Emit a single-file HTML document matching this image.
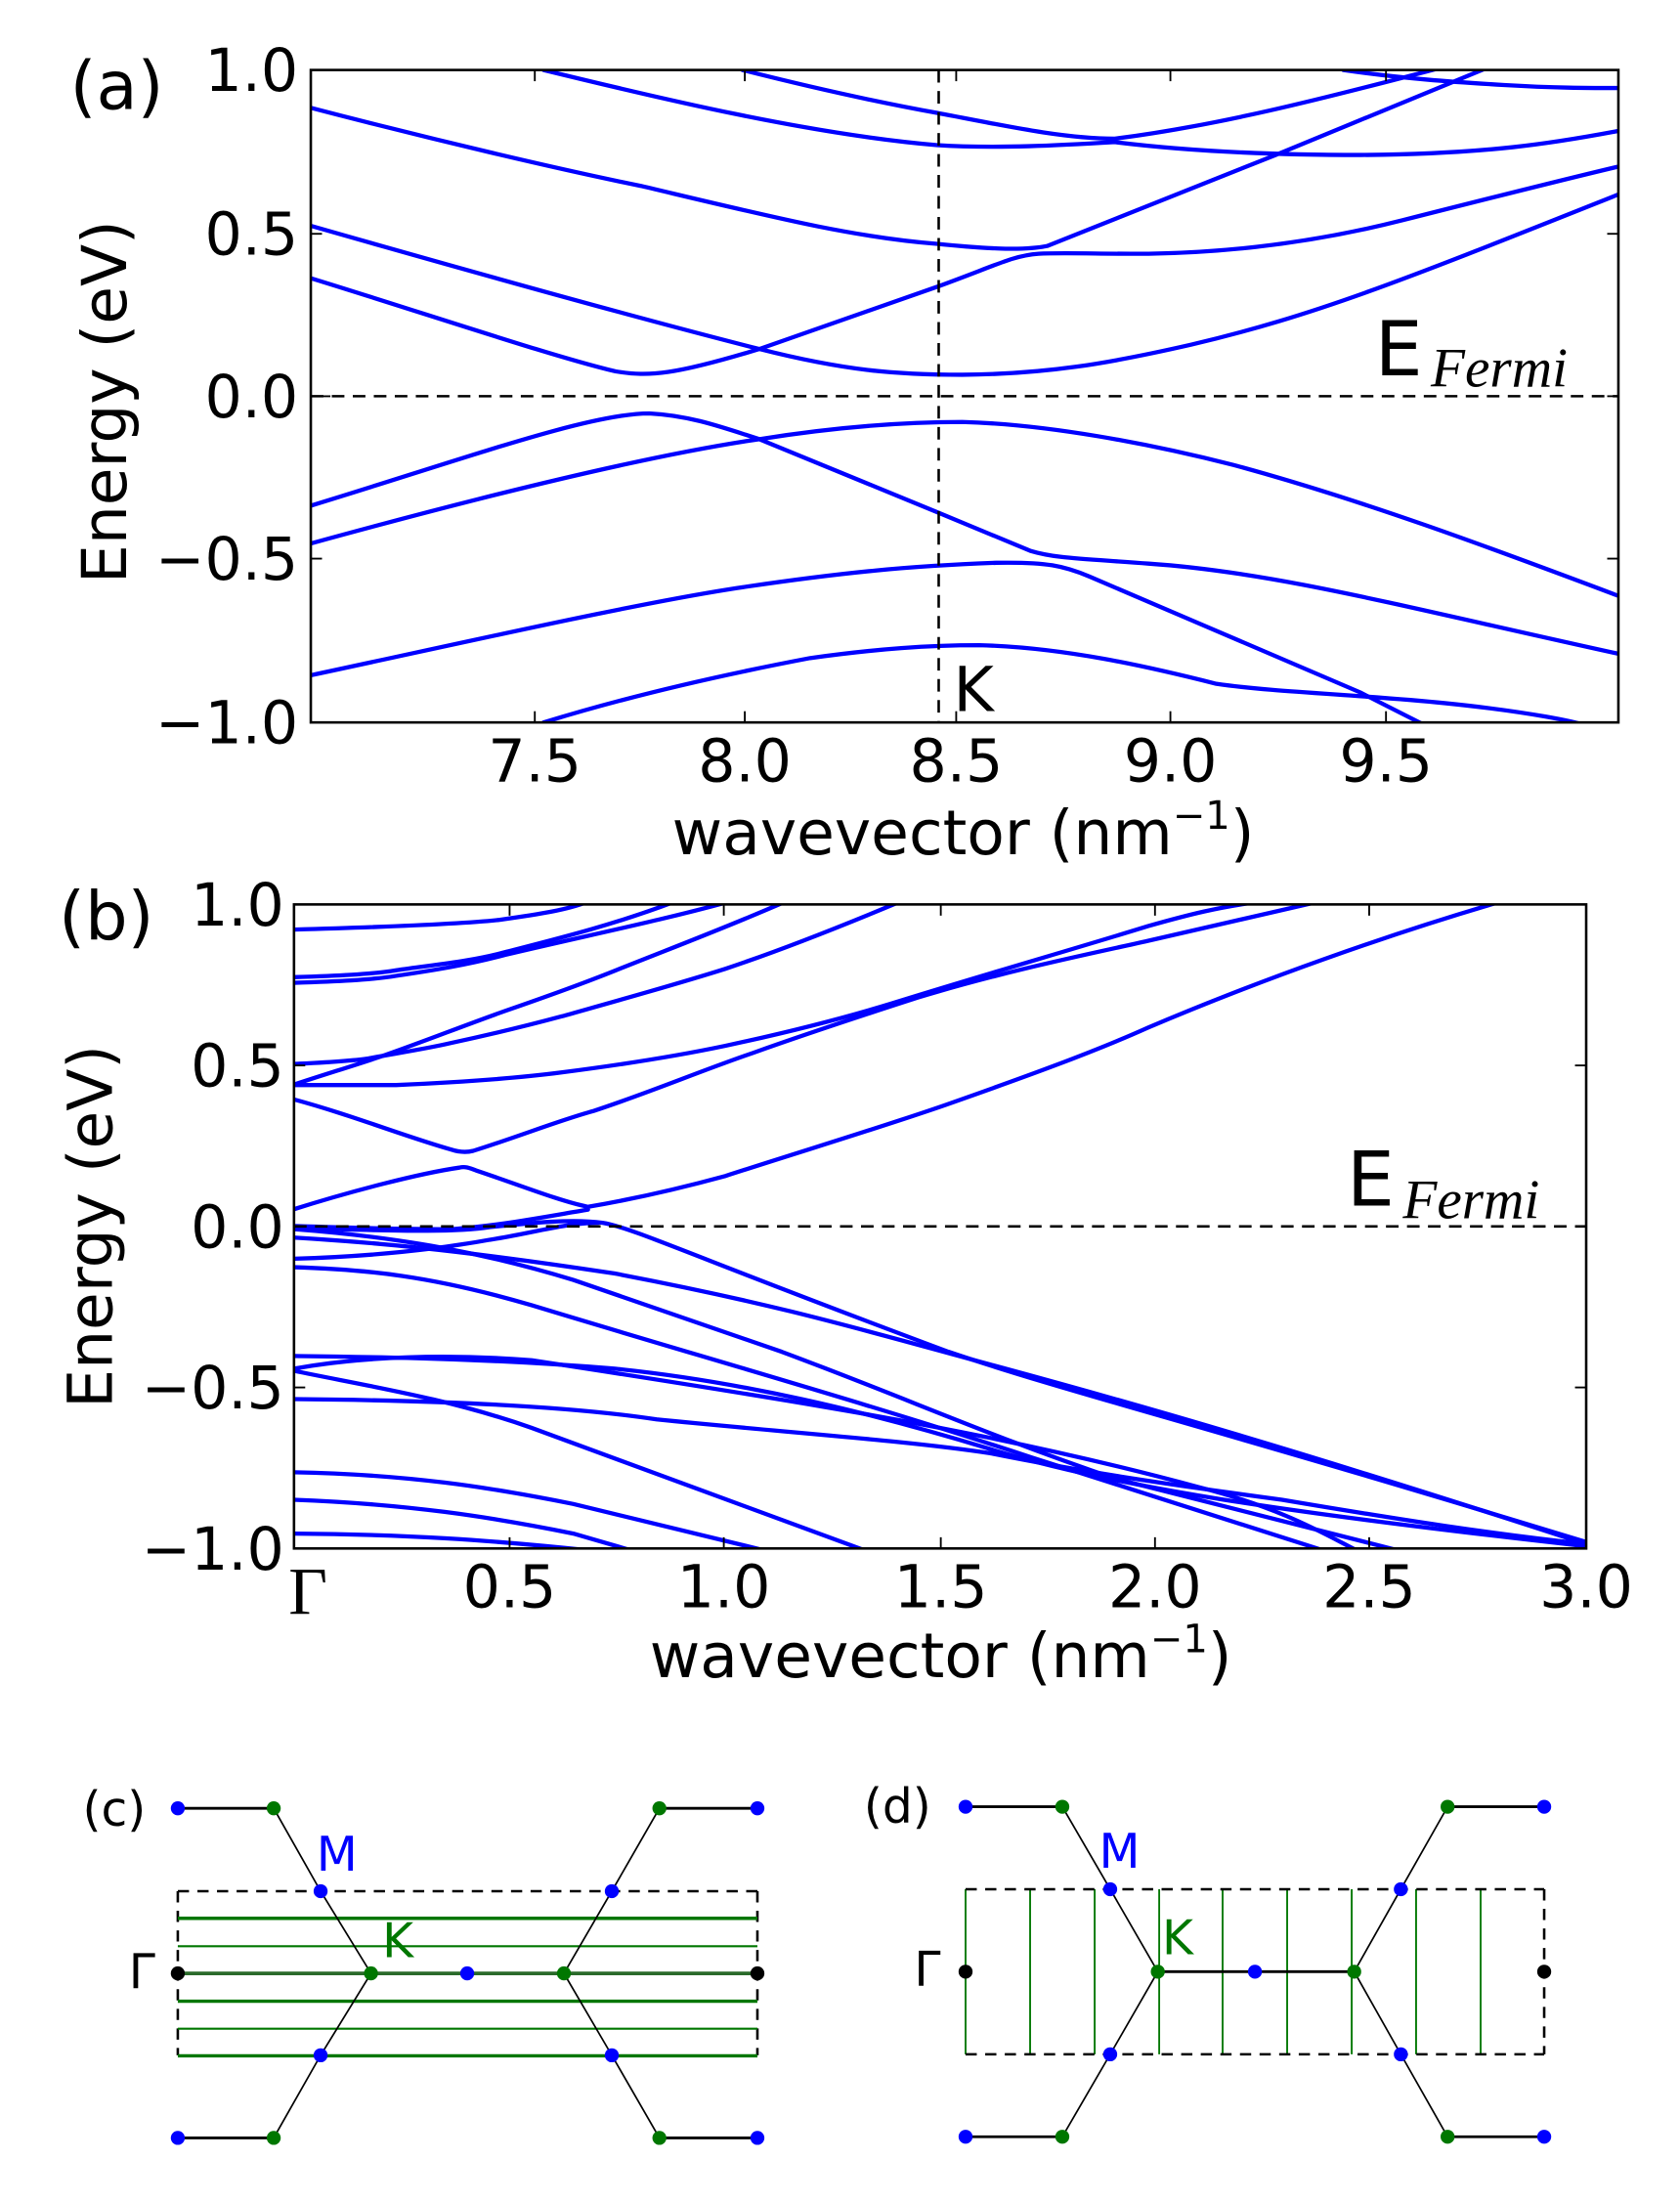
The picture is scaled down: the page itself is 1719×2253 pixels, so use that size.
<!DOCTYPE html>
<html><head><meta charset="utf-8"><style>
html,body{margin:0;padding:0;background:#fff;}
svg{display:block;}
text{font-family:"DejaVu Sans","Liberation Sans",sans-serif;fill:#000;}
.c{fill:none;stroke:#0000ff;stroke-width:4.3;stroke-linejoin:round;stroke-linecap:round;}
.d{fill:none;stroke:#0000ff;stroke-width:3;stroke-linejoin:round;stroke-linecap:round;}
</style></head><body>
<svg width="1719" height="2253" viewBox="0 0 1200 1572.8" xmlns="http://www.w3.org/2000/svg">
<defs>
<clipPath id="ca"><rect x="222" y="50" width="934" height="466"/></clipPath>
<clipPath id="cb"><rect x="210" y="646" width="923" height="460"/></clipPath>
</defs>

<!-- Panel a -->
<g clip-path="url(#ca)">
<g transform="translate(222,50) scale(0.6045,0.3066) translate(-10,-30)">
<path class="c" vector-effect="non-scaling-stroke" d="M285,30 C420,95 600,180 750,205 C820,214 900,205 960,198 C1050,220 1150,228 1250,228 C1400,226 1480,200 1555,172"/>
<path class="c" vector-effect="non-scaling-stroke" d="M520,30 C600,70 680,105 750,130 C830,160 900,190 960,190 C1080,160 1200,100 1345,25"/>
<path class="c" vector-effect="non-scaling-stroke" d="M1230,30 C1300,50 1360,58 1420,65 C1480,72 1520,72 1555,72"/>
<path class="c" vector-effect="non-scaling-stroke" d="M10,118 C150,190 300,260 400,300 C550,370 650,420 750,435 C800,445 850,452 880,440 L1150,228 L1400,25"/>
<path class="c" vector-effect="non-scaling-stroke" d="M10,515 C150,600 300,700 370,732 C410,745 440,740 540,680 L750,535 C820,485 840,462 870,458 C900,455 950,459 1000,458 C1100,455 1200,430 1300,380 C1400,330 1480,290 1555,255"/>
<path class="c" vector-effect="non-scaling-stroke" d="M10,393 C200,500 400,610 540,680 C640,730 700,740 780,740 C880,738 950,715 1050,670 C1200,600 1300,520 1555,320"/>
<path class="c" vector-effect="non-scaling-stroke" d="M10,1045 C200,930 340,830 410,830 C460,835 500,865 540,890 L750,1060 L860,1150 C890,1168 920,1168 1000,1180 C1150,1200 1300,1280 1555,1390"/>
<path class="c" vector-effect="non-scaling-stroke" d="M10,1133 C200,1030 400,930 540,890 C620,865 700,850 780,850 C880,855 1000,900 1100,950 C1250,1030 1400,1140 1555,1255"/>
<path class="c" vector-effect="non-scaling-stroke" d="M10,1440 C200,1360 400,1270 520,1235 C640,1200 720,1185 820,1178 C880,1176 900,1185 930,1210 L1250,1480 L1330,1560"/>
<path class="c" vector-effect="non-scaling-stroke" d="M285,1550 C400,1480 520,1430 600,1400 C680,1378 740,1370 800,1370 C900,1375 1000,1420 1080,1460 C1150,1480 1250,1485 1350,1505 C1450,1525 1510,1550 1520,1560"/>
</g></g>
<line x1="670.5" y1="50" x2="670.5" y2="516" stroke="#000" stroke-width="1.8" stroke-dasharray="9,6"/>
<line x1="222" y1="283" x2="1156" y2="283" stroke="#000" stroke-width="1.8" stroke-dasharray="9,6"/>
<rect x="222" y="50" width="934" height="466" fill="none" stroke="#000" stroke-width="1.8"/>
<g stroke="#000" stroke-width="1.3">
<line x1="382" y1="516" x2="382" y2="508"/><line x1="532" y1="516" x2="532" y2="508"/><line x1="683" y1="516" x2="683" y2="508"/><line x1="836" y1="516" x2="836" y2="508"/><line x1="990" y1="516" x2="990" y2="508"/>
<line x1="382" y1="50" x2="382" y2="58"/><line x1="532" y1="50" x2="532" y2="58"/><line x1="683" y1="50" x2="683" y2="58"/><line x1="836" y1="50" x2="836" y2="58"/><line x1="990" y1="50" x2="990" y2="58"/>
<line x1="222" y1="167" x2="230" y2="167"/><line x1="222" y1="283" x2="236" y2="283"/><line x1="222" y1="399" x2="230" y2="399"/>
<line x1="1156" y1="167" x2="1148" y2="167"/><line x1="1156" y1="283" x2="1148" y2="283"/><line x1="1156" y1="399" x2="1148" y2="399"/>
</g>
<g font-size="42" text-anchor="end">
<text x="213" y="65">1.0</text><text x="213" y="182">0.5</text><text x="213" y="298">0.0</text><text x="213" y="414">−0.5</text><text x="213" y="531">−1.0</text>
</g>
<g font-size="42" text-anchor="middle">
<text x="382" y="558">7.5</text><text x="532" y="558">8.0</text><text x="683" y="558">8.5</text><text x="836" y="558">9.0</text><text x="990" y="558">9.5</text>
</g>
<text x="688" y="610" font-size="44" text-anchor="middle">wavevector (nm<tspan font-size="28" dy="-18">−1</tspan><tspan dy="18">)</tspan></text>
<text transform="translate(90,287) rotate(-90)" font-size="44" text-anchor="middle">Energy (eV)</text>
<text x="50" y="78" font-size="48">(a)</text>
<text x="681" y="508" font-size="44">K</text>
<text x="982" y="268" font-size="54">E</text>
<text x="1022" y="276" font-size="40" font-style="italic" style="font-family:'Liberation Serif',serif">Fermi</text>

<!-- Panel b -->
<g clip-path="url(#cb)">
<path class="d" d="M209,664 C280,662 330,660 357,657 C385,653 405,650 420,644"/>
<path class="d" d="M209,698 C240,697 265,696 283,693 C310,689 335,687 361,680 C400,670 440,660 482,644"/>
<path class="d" d="M209,702 C240,701 265,700 283,697 C310,693 335,689 361,682 C420,668 470,658 521,644"/>
<path class="d" d="M209,775 C230,768 250,762 271,755 C300,745 330,733 361,722 C390,712 415,703 440,693 C480,677 520,662 561,644"/>
<path class="d" d="M209,760 C230,759 250,758 263,756 C285,752 305,749 322,745 C350,739 375,733 401,726 C440,715 480,704 518,692 C560,678 600,662 643,644"/>
<path class="d" d="M209,775 C240,775 260,775 283,775 C330,773 370,770 401,766 C440,761 480,755 518,747 C560,738 600,728 636,717 C700,697 770,677 820,661.5 C850,653 870,648 900,644"/>
<path class="d" d="M209,785 C250,796 290,812 322,821 C328,823 334,823 338,822 C370,812 400,800 424,793.5 C465,780 500,765 538,752 C580,737 620,724 656,712.4 C720,693 780,681 820,672 C860,663 900,654 942,644"/>
<path class="d" d="M209,864 C250,851 300,838 328,834 C332,833 335,834 340,836 C370,846 400,858 420,862 C455,856 485,849 518,840 C580,820 630,805 676,789 C730,770 780,752 820,734 C900,700 990,668 1072,644"/>
<path class="d" d="M209,875.7 C250,877 290,878 322,878 C360,875 390,869 420,864"/>
<g transform="translate(210,646) scale(0.5955,0.302) translate(-15,-42)">
<path class="c" vector-effect="non-scaling-stroke" d="M15,808 C120,812 200,820 250,805 C300,795 350,785 385,795 C420,805 500,880 800,1100 C950,1200 1100,1270 1565,1550"/>
<path class="c" vector-effect="non-scaling-stroke" d="M15,830 C100,840 200,855 400,915 C600,990 700,1050 850,1130 C1000,1210 1200,1320 1565,1555"/>
<path class="c" vector-effect="non-scaling-stroke" d="M15,880 C100,875 180,860 250,835 C300,820 340,795 380,795"/>
<path class="c" vector-effect="non-scaling-stroke" d="M15,900 C100,905 180,920 300,990 C500,1110 700,1220 900,1350 L1250,1570"/>
<path class="c" vector-effect="non-scaling-stroke" d="M15,810 C150,830 250,870 350,930 L600,1100 C750,1210 850,1300 1000,1400 L1340,1570"/>
<path class="c" vector-effect="non-scaling-stroke" d="M15,1110 C100,1112 250,1115 400,1140 C550,1170 700,1240 850,1330 C1000,1420 1200,1480 1565,1560"/>
<path class="c" vector-effect="non-scaling-stroke" d="M15,1140 C100,1110 200,1105 300,1120 C400,1150 500,1180 650,1230 C800,1280 950,1340 1100,1420 C1200,1470 1250,1530 1290,1570"/>
<path class="c" vector-effect="non-scaling-stroke" d="M15,1145 C100,1180 200,1210 300,1280 L700,1570"/>
<path class="c" vector-effect="non-scaling-stroke" d="M15,1212 C200,1215 350,1230 450,1260 C600,1290 750,1310 850,1340 C950,1380 1050,1410 1200,1450 C1350,1500 1450,1530 1565,1555"/>
<path class="c" vector-effect="non-scaling-stroke" d="M15,1385 C150,1390 250,1420 350,1460 L580,1570"/>
<path class="c" vector-effect="non-scaling-stroke" d="M15,1450 C150,1460 250,1490 350,1530 L420,1570"/>
<path class="c" vector-effect="non-scaling-stroke" d="M15,1530 C150,1532 250,1545 370,1570"/>
</g></g>
<line x1="210" y1="876" x2="1133" y2="876" stroke="#000" stroke-width="1.8" stroke-dasharray="9,6"/>
<rect x="210" y="646" width="923" height="460" fill="none" stroke="#000" stroke-width="1.8"/>
<g stroke="#000" stroke-width="1.3">
<line x1="364" y1="1106" x2="364" y2="1098"/><line x1="517" y1="1106" x2="517" y2="1098"/><line x1="672" y1="1106" x2="672" y2="1098"/><line x1="825" y1="1106" x2="825" y2="1098"/><line x1="978" y1="1106" x2="978" y2="1098"/>
<line x1="364" y1="646" x2="364" y2="654"/><line x1="517" y1="646" x2="517" y2="654"/><line x1="672" y1="646" x2="672" y2="654"/><line x1="825" y1="646" x2="825" y2="654"/><line x1="978" y1="646" x2="978" y2="654"/>
<line x1="210" y1="761" x2="218" y2="761"/><line x1="210" y1="991" x2="218" y2="991"/>
<line x1="1133" y1="761" x2="1125" y2="761"/><line x1="1133" y1="991" x2="1125" y2="991"/>
</g>
<g font-size="42" text-anchor="end">
<text x="203" y="661">1.0</text><text x="203" y="776">0.5</text><text x="203" y="891">0.0</text><text x="203" y="1006">−0.5</text><text x="203" y="1121">−1.0</text>
</g>
<g font-size="42" text-anchor="middle">
<text x="364" y="1148">0.5</text><text x="517" y="1148">1.0</text><text x="672" y="1148">1.5</text><text x="825" y="1148">2.0</text><text x="978" y="1148">2.5</text><text x="1133" y="1148">3.0</text>
</g>
<text x="220" y="1153" font-size="48" text-anchor="middle" style="font-family:'Liberation Serif',serif">Γ</text>
<text x="672" y="1198" font-size="44" text-anchor="middle">wavevector (nm<tspan font-size="28" dy="-18">−1</tspan><tspan dy="18">)</tspan></text>
<text transform="translate(80,876) rotate(-90)" font-size="44" text-anchor="middle">Energy (eV)</text>
<text x="42" y="671" font-size="48">(b)</text>
<text x="962" y="861" font-size="54">E</text>
<text x="1002" y="870" font-size="40" font-style="italic" style="font-family:'Liberation Serif',serif">Fermi</text>

<!-- Panel c -->
<g>
<g stroke="#000" stroke-width="1.8" stroke-dasharray="8,6" fill="none">
<line x1="127" y1="1350.8" x2="541" y2="1350.8"/>
<line x1="127" y1="1350.8" x2="127" y2="1468"/>
<line x1="541" y1="1350.8" x2="541" y2="1468"/>
</g>
<g stroke="#007700">
<line x1="127" y1="1370.2" x2="541" y2="1370.2" stroke-width="2.4"/>
<line x1="127" y1="1390.1" x2="541" y2="1390.1" stroke-width="1.5"/>
<line x1="127" y1="1429.4" x2="541" y2="1429.4" stroke-width="2.4"/>
<line x1="127" y1="1449" x2="541" y2="1449" stroke-width="1.5"/>
<line x1="127" y1="1468.4" x2="541" y2="1468.4" stroke-width="2.4"/>
</g>
<g stroke="#000" fill="none">
<line x1="127" y1="1291.6" x2="195.5" y2="1291.6" stroke-width="2"/>
<line x1="471" y1="1291.6" x2="541" y2="1291.6" stroke-width="2"/>
<line x1="127" y1="1527" x2="195.5" y2="1527" stroke-width="2"/>
<line x1="471" y1="1527" x2="541" y2="1527" stroke-width="2"/>
<polyline points="195.5,1291.6 229,1350.8 265,1409.5 229,1468 195.5,1527" stroke-width="1.2"/>
<polyline points="471,1291.6 437,1350.8 402.8,1409.5 437,1468 471,1527" stroke-width="1.2"/>
</g>
<line x1="127" y1="1409.5" x2="541" y2="1409.5" stroke="#2a6a2a" stroke-width="2.6"/>
<g stroke="none">
<circle cx="127" cy="1291.6" r="5" fill="#0000ff"/><circle cx="195.5" cy="1291.6" r="5" fill="#007700"/>
<circle cx="471" cy="1291.6" r="5" fill="#007700"/><circle cx="541" cy="1291.6" r="5" fill="#0000ff"/>
<circle cx="229" cy="1350.8" r="5" fill="#0000ff"/><circle cx="437" cy="1350.8" r="5" fill="#0000ff"/>
<circle cx="127" cy="1409.5" r="5" fill="#000"/><circle cx="265" cy="1409.5" r="5" fill="#007700"/><circle cx="333.7" cy="1409.5" r="5" fill="#0000ff"/><circle cx="402.8" cy="1409.5" r="5" fill="#007700"/><circle cx="541" cy="1409.5" r="5" fill="#000"/>
<circle cx="229" cy="1468" r="5" fill="#0000ff"/><circle cx="437" cy="1468" r="5" fill="#0000ff"/>
<circle cx="127" cy="1527" r="5" fill="#0000ff"/><circle cx="195.5" cy="1527" r="5" fill="#007700"/>
<circle cx="471" cy="1527" r="5" fill="#007700"/><circle cx="541" cy="1527" r="5" fill="#0000ff"/>
</g>
<text x="59" y="1304" font-size="34">(c)</text>
<text x="226" y="1336" font-size="34" style="fill:#0000ff">M</text>
<text x="273" y="1398" font-size="34" style="fill:#007700">K</text>
<text x="92" y="1420" font-size="34">Γ</text>
</g>

<!-- Panel d -->
<g>
<g stroke="#007700" stroke-width="1.3">
<line x1="689.7" y1="1349.4" x2="689.7" y2="1467.3"/><line x1="735.8" y1="1349.4" x2="735.8" y2="1467.3"/><line x1="781.9" y1="1349.4" x2="781.9" y2="1467.3"/><line x1="828" y1="1349.4" x2="828" y2="1467.3"/><line x1="873.3" y1="1349.4" x2="873.3" y2="1467.3"/><line x1="919.4" y1="1349.4" x2="919.4" y2="1467.3"/><line x1="965.5" y1="1349.4" x2="965.5" y2="1467.3"/><line x1="1011.5" y1="1349.4" x2="1011.5" y2="1467.3"/><line x1="1057.6" y1="1349.4" x2="1057.6" y2="1467.3"/>
</g>
<g stroke="#000" stroke-width="1.8" stroke-dasharray="8,6" fill="none">
<line x1="689.7" y1="1349.4" x2="1103" y2="1349.4"/>
<line x1="689.7" y1="1467.3" x2="1103" y2="1467.3"/>
<line x1="1103" y1="1349.4" x2="1103" y2="1467.3"/>
</g>
<g stroke="#000" fill="none">
<line x1="689.7" y1="1290.5" x2="758.8" y2="1290.5" stroke-width="2"/>
<line x1="1034" y1="1290.5" x2="1103" y2="1290.5" stroke-width="2"/>
<line x1="689.7" y1="1526.2" x2="758.8" y2="1526.2" stroke-width="2"/>
<line x1="1034" y1="1526.2" x2="1103" y2="1526.2" stroke-width="2"/>
<polyline points="758.8,1290.5 793,1349.4 827,1408.3 793,1467.3 758.8,1526.2" stroke-width="1.2"/>
<polyline points="1034,1290.5 1000.6,1349.4 967.3,1408.3 1000.6,1467.3 1034,1526.2" stroke-width="1.2"/>
<line x1="827" y1="1408.3" x2="967.3" y2="1408.3" stroke-width="2"/>
</g>
<g stroke="none">
<circle cx="689.7" cy="1290.5" r="5" fill="#0000ff"/><circle cx="758.8" cy="1290.5" r="5" fill="#007700"/>
<circle cx="1034" cy="1290.5" r="5" fill="#007700"/><circle cx="1103" cy="1290.5" r="5" fill="#0000ff"/>
<circle cx="793" cy="1349.4" r="5" fill="#0000ff"/><circle cx="1000.6" cy="1349.4" r="5" fill="#0000ff"/>
<circle cx="689.7" cy="1408.3" r="5" fill="#000"/><circle cx="827" cy="1408.3" r="5" fill="#007700"/><circle cx="896.4" cy="1408.3" r="5" fill="#0000ff"/><circle cx="967.3" cy="1408.3" r="5" fill="#007700"/><circle cx="1103" cy="1408.3" r="5" fill="#000"/>
<circle cx="793" cy="1467.3" r="5" fill="#0000ff"/><circle cx="1000.6" cy="1467.3" r="5" fill="#0000ff"/>
<circle cx="689.7" cy="1526.2" r="5" fill="#0000ff"/><circle cx="758.8" cy="1526.2" r="5" fill="#007700"/>
<circle cx="1034" cy="1526.2" r="5" fill="#007700"/><circle cx="1103" cy="1526.2" r="5" fill="#0000ff"/>
</g>
<text x="617" y="1302" font-size="34">(d)</text>
<text x="785" y="1334" font-size="34" style="fill:#0000ff">M</text>
<text x="830" y="1396" font-size="34" style="fill:#007700">K</text>
<text x="653" y="1418" font-size="34">Γ</text>
</g>
</svg>
</body></html>
